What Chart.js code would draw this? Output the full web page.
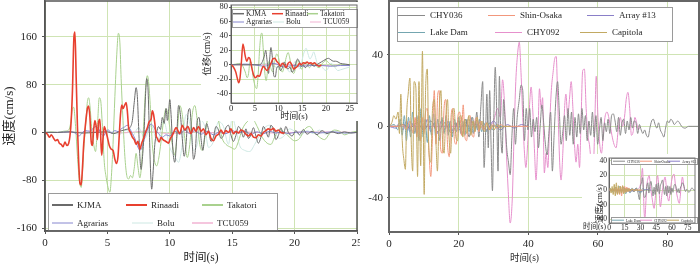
<!DOCTYPE html>
<html>
<head>
<meta charset="utf-8">
<script src="https://cdn.jsdelivr.net/npm/chart.js@4.4.1/dist/chart.umd.min.js"></script>
<style>
  html, body { margin: 0; padding: 0; background: #fff; }
  body { width: 700px; height: 265px; position: relative; overflow: hidden; }
  canvas { position: absolute; }
  .inset { background: #fff; }
</style>
</head>
<body>
<canvas id="velLeft" width="360" height="265" style="left:0;top:0"></canvas>
<canvas id="dispInset" class="inset" width="157" height="119" style="left:201px;top:2px"></canvas>
<canvas id="velRight" width="340" height="265" style="left:360px;top:0"></canvas>
<canvas id="velInset" class="inset" width="116" height="77" style="left:582px;top:154px"></canvas>
<script>
// ---------- left panel: velocity time histories, [time (s), velocity (cm/s)] ----------
const kjma = [[0,0],[1,0],[2,1],[3,-1],[4,0],[5,1],[5.5,-2],[6,2],[6.5,5],[6.8,8],[7.0,20],[7.15,50],[7.3,75],[7.4,60],[7.5,10],[7.6,-40],[7.7,-62],[7.8,-45],[7.95,5],[8.05,60],[8.15,90],[8.25,75],[8.35,10],[8.45,-60],[8.55,-95],[8.65,-70],[8.8,-20],[8.95,0],[9.1,10],[9.25,5],[9.4,25],[9.55,15],[9.7,40],[9.8,20],[9.9,35],[10.0,55],[10.1,30],[10.25,-30],[10.4,-50],[10.55,-10],[10.7,45],[10.85,30],[11.0,-10],[11.15,-40],[11.3,-20],[11.45,30],[11.6,40],[11.75,0],[11.9,-45],[12.05,-30],[12.2,20],[12.35,25],[12.5,-10],[12.65,-30],[12.8,-5],[12.95,15],[13.1,5],[13.3,-15],[13.5,-8],[13.7,10],[13.9,4],[14.1,-10],[14.3,-5],[14.5,8],[14.7,12],[14.9,-4],[15.1,-15],[15.3,-5],[15.5,10],[15.7,4],[15.9,-8],[16.1,6],[16.3,-10],[16.5,-4],[16.7,8],[16.9,-6],[17.1,-18],[17.3,-8],[17.5,10],[17.7,2],[17.9,-8],[18.1,12],[18.3,6],[18.5,-12],[18.7,-5],[18.9,8],[19.1,-3],[19.3,10],[19.5,0],[19.8,-6],[20.1,3],[20.4,-4],[20.7,5],[21.0,-3],[21.4,2],[21.8,-4],[22.2,3],[22.6,-2],[23,1],[23.5,-2],[24,1],[24.5,-1],[25,0]];
const rinaadi = [[0,0],[0.2,-3],[0.35,-8],[0.5,-4],[0.7,-10],[0.85,-14],[1.0,-12],[1.15,-18],[1.3,-20],[1.45,-24],[1.6,-16],[1.75,-22],[1.9,-18],[2.0,-6],[2.1,20],[2.2,70],[2.32,160],[2.4,168],[2.5,90],[2.6,10],[2.7,-50],[2.8,-85],[2.9,-88],[3.0,-60],[3.1,-20],[3.25,15],[3.4,40],[3.5,44],[3.6,25],[3.7,-15],[3.8,-22],[3.9,5],[4.0,20],[4.1,10],[4.2,-12],[4.3,18],[4.4,22],[4.5,-25],[4.55,-38],[4.65,-10],[4.75,10],[4.85,4],[5.0,-8],[5.15,-22],[5.3,-28],[5.45,-30],[5.6,-45],[5.72,-52],[5.85,-40],[5.95,-5],[6.05,30],[6.15,46],[6.25,40],[6.35,44],[6.5,50],[6.6,35],[6.7,8],[6.85,0],[7.0,-8],[7.15,-12],[7.3,-20],[7.45,-15],[7.6,-28],[7.75,-18],[7.9,-10],[8.05,0],[8.2,8],[8.35,18],[8.5,22],[8.6,36],[8.7,30],[8.8,15],[8.9,-5],[9.0,-10],[9.15,-16],[9.3,-8],[9.45,-12],[9.6,-14],[9.75,-16],[9.9,-18],[10.05,-10],[10.2,-5],[10.35,2],[10.5,8],[10.8,-2],[11.0,12],[11.2,4],[11.45,10],[11.7,-2],[11.9,8],[12.1,2],[12.3,10],[12.5,2],[12.7,6],[12.9,-4],[13.1,2],[13.3,-10],[13.5,-14],[13.7,-6],[13.9,-3],[14.1,4],[14.3,-2],[14.5,3],[14.7,0],[14.9,6],[15.1,-2],[15.3,2],[15.5,-1],[15.7,4],[15.9,2],[16.1,-3],[16.3,-6],[16.5,-2],[16.7,-8],[16.9,-9],[17.1,-4],[17.3,-6],[17.5,0],[17.7,3],[17.9,6],[18.1,4],[18.3,7],[18.5,2],[18.7,4],[18.9,0],[19.2,-1]];
const takatori = [[0,0],[0.5,1],[1,0],[1.5,2],[1.9,4],[2.05,15],[2.2,40],[2.3,42],[2.45,10],[2.6,-40],[2.75,-80],[2.9,-92],[3.0,-70],[3.1,-30],[3.25,10],[3.4,52],[3.5,58],[3.6,45],[3.75,5],[3.9,-20],[4.05,-32],[4.2,10],[4.35,58],[4.45,55],[4.6,10],[4.75,-50],[4.9,-75],[5.05,-92],[5.2,-100],[5.3,-80],[5.45,-20],[5.6,60],[5.75,130],[5.88,166],[6.0,150],[6.1,90],[6.25,20],[6.4,-40],[6.55,-72],[6.7,-78],[6.85,-72],[7.0,-76],[7.15,-60],[7.3,-35],[7.45,-58],[7.6,-76],[7.75,-50],[7.9,10],[8.05,70],[8.2,95],[8.3,85],[8.45,40],[8.6,-20],[8.8,-50],[8.95,-56],[9.1,-45],[9.3,-15],[9.5,20],[9.7,40],[9.85,30],[10.0,8],[10.2,-20],[10.4,-38],[10.6,0],[10.8,45],[11.0,30],[11.2,-10],[11.4,-42],[11.6,-20],[11.8,30],[12.0,45],[12.2,20],[12.4,-20],[12.6,-30],[12.8,-10],[13.0,20],[13.3,42],[13.6,44],[13.9,20],[14.2,-10],[14.5,-20],[14.9,-25],[15.2,-28],[15.5,-15],[15.8,5],[16.2,18],[16.6,23],[17.0,10],[17.4,-8],[17.8,-18],[18.1,-20],[18.4,-8],[18.8,5],[19.2,0],[19.6,-8],[20.0,-14],[20.4,-10],[20.8,5],[21.2,10],[21.6,0],[22.0,-8],[22.4,-12],[22.8,-2],[23.2,4],[23.6,2],[24.0,-4],[24.5,0],[25,2]];
const agrarias = [[0,0],[1,0],[2,1],[2.5,-2],[2.7,-6],[2.9,-3],[3.2,3],[3.6,2],[3.9,8],[4.1,10],[4.3,6],[4.5,-2],[4.7,-6],[4.9,2],[5.1,4],[5.3,-1],[5.6,3],[5.9,1],[6.1,6],[6.3,8],[6.6,12],[6.8,6],[7.0,-2],[7.2,-10],[7.4,-22],[7.6,-30],[7.8,-24],[8.0,-8],[8.2,4],[8.5,14],[8.7,10],[8.9,2],[9.1,-2],[9.4,-8],[9.7,-4],[10.0,-6],[10.4,2],[10.8,-3],[11.2,4],[11.6,-2],[12,3],[12.5,-3],[13,2],[13.5,-4],[14,1],[14.5,-2],[15,3],[15.5,-1],[16,2],[16.5,-3],[17,1],[17.5,-2],[18,2],[18.5,-1],[19,1],[19.5,-2],[20,0],[21,1],[22,-1],[23,1],[24,-1],[25,0]];
const bolu = [[0,0],[1,0],[2,1],[3,-1],[4,0],[5,2],[6,-3],[6.5,4],[7,-6],[7.5,8],[8,-10],[8.5,12],[9,-15],[9.5,20],[10,-25],[10.4,-40],[10.7,-50],[11,-20],[11.3,30],[11.6,15],[11.9,-30],[12.2,-20],[12.5,20],[12.8,10],[13.1,-25],[13.5,-15],[13.9,18],[14.3,10],[14.7,-20],[15.0,25],[15.3,5],[15.6,-22],[16.0,-30],[16.4,-32],[16.8,-20],[17.2,-5],[17.6,8],[18.0,12],[18.4,0],[18.8,-10],[19.2,-5],[19.6,6],[20,2],[20.5,-5],[21,3],[21.5,-2],[22,4],[22.5,-3],[23,2],[24,-1],[25,0]];
const tcu059 = [[0,0],[2,0],[4,1],[6,-1],[8,2],[10,-2],[12,1],[14,-1],[16,1],[18,-1],[20,0],[22,1],[25,0]];

// ---------- left inset: displacement, [time (s), displacement (cm)] ----------
const kjmaDisp = [[0,0],[6,0],[6.5,3],[7.0,12],[7.3,20],[7.6,5],[7.9,-12],[8.1,5],[8.4,24],[8.7,10],[9.0,-15],[9.3,-17],[9.6,-5],[10.0,-2],[10.4,-8],[10.8,-4],[11.2,4],[11.6,-2],[12.0,-6],[12.4,-3],[12.8,-10],[13.2,-8],[13.6,2],[14,8],[14.4,4],[14.8,-2],[15.2,0],[15.6,-4],[16,-2],[16.5,2],[17,0],[17.5,-2],[18,0],[18.5,2],[19,4],[19.5,6],[20,8],[20.5,9],[21,7],[21.5,5],[22,5],[22.5,4],[23,2],[24,1],[25,0]];
const rinaadiDisp = [[0,0],[0.5,-3],[1.0,-10],[1.3,-18],[1.6,-25],[1.9,-18],[2.2,5],[2.5,29],[2.7,24],[3.0,12],[3.3,5],[3.7,10],[4.0,8],[4.4,-5],[4.8,-15],[5.2,-18],[5.6,-15],[6.0,-16],[6.4,-8],[6.8,-2],[7.2,-5],[7.6,-8],[8.0,-4],[8.4,2],[8.8,8],[9.2,9],[9.6,5],[10.0,2],[10.4,-2],[10.8,2],[11.2,0],[11.6,-4],[12.0,2],[12.4,4],[12.8,0],[13.2,-6],[13.6,-4],[14.0,-2],[14.4,2],[14.8,0],[15.2,3],[15.6,2],[16.0,4],[16.4,2],[16.8,3],[17.2,1],[17.6,3],[18.0,0],[18.5,-2],[19,0]];
const takatoriDisp = [[0,0],[1,1],[2,2],[2.5,-2],[3.0,-10],[3.4,-18],[3.7,-12],[4.0,5],[4.3,2],[4.6,-15],[5.0,-28],[5.4,-33],[5.7,-15],[6.0,20],[6.3,42],[6.5,44],[6.8,20],[7.1,-10],[7.4,-22],[7.7,-8],[8.0,5],[8.4,-5],[8.8,-10],[9.2,5],[9.6,15],[10.0,10],[10.4,-5],[10.8,-10],[11.2,-2],[11.6,10],[12.0,17],[12.4,8],[12.8,-8],[13.2,-12],[13.6,-4],[14.0,6],[14.4,2],[14.8,-6],[15.2,-2],[15.6,4],[16.0,1],[16.5,-4],[17,0],[17.5,3],[18,-2],[18.5,-4],[19,0],[19.5,4],[20,6],[20.5,3],[21,0],[22,-2],[23,1],[24,0],[25,0]];
const agrariasDisp = [[0,0],[3,1],[5,0],[7,-2],[9,2],[11,-3],[13,-1],[15,-2],[17,-1],[19,-1],[21,-2],[23,-1],[25,-1]];
const boluDisp = [[0,0],[5,0],[7,2],[9,-2],[10,-4],[11,2],[12,-8],[12.5,-10],[13,-2],[13.5,5],[14,0],[14.5,-6],[15,8],[15.5,20],[15.8,23],[16.2,15],[16.6,8],[17,12],[17.4,18],[17.8,10],[18.2,0],[18.6,-4],[19,-2],[19.5,-6],[20,-8],[20.5,-4],[21,2],[21.5,0],[22,-5],[22.5,-8],[23,-7],[24,-5],[25,-3]];
const tcu059Disp = [[0,0],[5,0],[10,1],[15,0],[20,-1],[25,0]];

// ---------- right panel: velocity time histories, [time (s), velocity (cm/s)] ----------
const chy036 = [[0,0],[2,0],[4,1],[6,-1],[8,2],[10,-2],[12,3],[14,-3],[16,2],[18,-4],[20,3],[21,-5],[22,4],[23,-6],[24,5],[24.6,-3],[25.2,8],[25.8,-6],[26.4,12],[26.9,25],[27.3,-23],[27.7,-5],[28.1,18],[28.5,-12],[28.9,20],[29.3,-10],[29.7,-36],[30.1,5],[30.5,33],[30.9,10],[31.3,-25],[31.7,28],[32.1,-5],[32.5,-15],[32.9,15],[33.3,5],[33.8,-12],[34.3,-20],[34.8,-27],[35.3,-5],[35.8,10],[36.3,-10],[36.8,5],[37.4,15],[37.9,23],[38.4,20],[38.9,-8],[39.4,10],[39.9,-2],[40.4,10],[40.9,-6],[41.4,4],[41.9,-3],[42.4,5],[42.9,-12],[43.4,0],[43.9,12],[44.4,2],[44.9,-10],[45.4,-16],[45.9,-4],[46.4,8],[46.9,-25],[47.4,-5],[47.9,15],[48.4,25],[48.9,8],[49.4,-10],[49.9,-3],[50.4,6],[50.9,-8],[51.4,10],[51.9,-5],[52.4,8],[52.9,-10],[53.4,5],[53.9,-6],[54.4,7],[54.9,-4],[55.4,10],[55.9,-2],[56.4,6],[56.9,-8],[57.4,3],[57.9,-5],[58.4,8],[58.9,-6],[59.4,6],[59.9,-10],[60.4,-2],[60.9,5],[61.4,-8],[61.9,2],[62.4,-3],[62.9,4],[63.4,-4],[63.9,6],[64.4,7],[64.9,3],[65.4,-3],[65.9,5],[66.4,-5],[66.9,2],[67.4,4],[67.9,-4],[68.4,3],[68.9,-2],[69.4,5],[69.9,-1],[70.4,3],[70.9,2],[71.4,-4],[71.9,1],[72.4,-2],[72.9,-4],[73.4,-2],[73.9,-5],[74.4,-6],[74.9,-1],[75.4,3],[75.9,4],[76.4,1],[76.9,-1],[77.4,2],[77.9,-2],[78.4,-4],[78.9,-6],[79.4,-1],[79.9,3],[80.4,2],[80.9,4],[81.4,3],[81.9,1],[82.4,2],[82.9,3],[83.4,2],[84,0],[85,-1],[86,0],[87,0],[89,0]];
const shinOsaka = [[0,0],[3,0],[4,1],[5,-2],[6,3],[7,-4],[7.5,5],[8,-6],[8.5,6],[9,-8],[9.5,5],[10,-4],[10.5,8],[11,10],[11.5,-15],[12,-28],[12.5,-5],[13,20],[13.5,-10],[14,18],[14.4,20],[14.8,-12],[15.3,-15],[15.8,10],[16.3,15],[16.8,-10],[17.3,-17],[17.8,5],[18.3,10],[18.8,-8],[19.3,-10],[19.8,6],[20.3,8],[20.8,-5],[21.3,12],[21.8,-6],[22.3,-8],[22.8,5],[23.3,6],[23.8,-4],[24.3,-6],[24.8,4],[25.3,5],[25.8,-3],[26.3,3],[27,-2],[28,2],[29,-2],[30,1],[31,-1],[32,1],[33,0],[36,0],[40,0]];
const array13 = [[0,0],[2,-1],[3,2],[4,-2],[5,3],[6,-3],[7,2],[8,-4],[9,3],[10,-2],[11,4],[12,-3],[13,2],[14,-4],[15,3],[16,-2],[17,3],[18,-3],[19,2],[20,-2],[22,2],[24,-3],[26,2],[28,-2],[30,3],[32,-2],[34,1],[36,-1],[38,1],[40,0]];
const lakeDam = [[0,0],[1.5,1],[2.5,-2],[3.2,4],[3.8,-5],[4.4,6],[5.0,-8],[5.6,5],[6.2,-6],[6.8,8],[7.4,-4],[8.0,6],[8.6,-8],[9.2,10],[9.8,-6],[10.4,4],[11,-9],[11.6,6],[12.2,-5],[12.8,7],[13.4,-6],[14,4],[14.6,-8],[15.2,5],[15.8,-4],[16.4,6],[17,-5],[17.6,3],[18.2,-6],[18.8,4],[19.4,-3],[20,5],[20.6,-4],[21.2,3],[21.8,-5],[22.4,4],[23,-3],[23.6,5],[24.2,-4],[24.8,3],[25.4,-2],[26,4],[26.6,-3],[27.2,2],[28,-3],[28.8,2],[29.6,-2],[30.4,1],[31.2,-1],[32,0],[33,0]];
const chy092 = [[0,0],[10,0],[20,0],[25,1],[28,-2],[30,3],[31.2,10],[32,5],[32.6,26],[33.1,15],[33.6,-10],[34.2,-35],[34.8,-54],[35.4,-40],[35.9,-5],[36.4,25],[36.9,40],[37.4,47],[37.9,30],[38.4,5],[38.9,-15],[39.3,-23],[39.8,-10],[40.3,10],[40.8,22],[41.3,8],[41.8,-15],[42.2,-30],[42.7,-10],[43.2,21],[43.7,10],[44.1,16],[44.6,-26],[45.1,-15],[45.6,-23],[46.1,0],[46.6,20],[47.1,30],[47.6,38],[48.0,39],[48.5,10],[49.0,-20],[49.4,-30],[49.9,-15],[50.4,10],[50.8,18],[51.3,5],[51.8,15],[52.3,25],[52.8,10],[53.2,-8],[53.7,-20],[54.2,-10],[54.7,-23],[55.1,0],[55.6,31],[56.1,32],[56.6,10],[57.1,-5],[57.6,-11],[58.0,-20],[58.5,-31],[59.0,-5],[59.5,28],[60.0,5],[60.5,-10],[61.0,-15],[61.5,-5],[62.0,5],[62.6,8],[63.3,3],[64.0,-5],[64.6,-10],[65.2,-12],[65.8,-2],[66.4,5],[67.0,0],[67.6,5],[68.1,15],[68.6,19],[69.1,10],[69.6,-5],[70.1,-3],[70.6,5],[71.1,2],[71.6,-2],[72.1,0]];
const capitola = [[0,0],[0.8,2],[1.4,6],[2.0,4],[2.6,8],[3.0,-4],[3.4,18],[3.8,-8],[4.3,-19],[4.7,-24],[5.1,8],[5.5,18],[6.0,27],[6.4,-10],[6.8,-25],[7.2,25],[7.7,22],[8.2,-28],[8.6,25],[9.1,-22],[9.6,42],[10.1,-38],[10.5,20],[11.0,32],[11.4,-12],[12.0,-20],[12.5,10],[13.0,15],[13.5,-10],[13.9,-25],[14.4,8],[14.9,20],[15.3,-5],[15.8,-15],[16.3,5],[16.8,15],[17.2,-5],[17.7,-15],[18.2,8],[18.7,10],[19.2,-6],[19.7,-8],[20.2,5],[20.7,6],[21.2,-6],[21.7,4],[22.3,-4],[22.9,6],[23.5,-5],[24.1,3],[24.7,-3],[25.3,5],[26,-2],[26.7,3],[27.4,-3],[28.1,2],[28.8,-2],[29.5,1],[30.2,-2],[31,1],[32,-1],[33,0],[35,0]];

// ---------- right inset: velocity, [time (s), velocity (cm/s)] ----------
const chy036Inset = [[0,0],[10,0],[20,1],[24,-2],[26,3],[28,-6],[29,-13],[30,5],[31,10],[32,17],[33,-5],[34,-10],[35,-8],[36,5],[37,10],[38,-4],[39,8],[40,12],[41,2],[42,-8],[43,4],[44,-6],[45,8],[46,-2],[47,10],[48,-5],[49,6],[50,10],[51,14],[52,4],[53,-6],[54,5],[55,-8],[56,6],[57,-4],[58,5],[59,-6],[60,3],[61,-3],[62,6],[63,8],[64,4],[65,-3],[66,2],[67,-4],[68,3],[69,6],[70,10],[71,8],[72,2],[73,-2],[74,1],[75,0],[76,-3],[77,-2],[78,1],[79,3],[80,2],[81,0],[82,0]];
const shinOsakaInset = [[0,0],[4,0],[5,2],[6,-3],[7,4],[8,-5],[9,3],[10,-6],[11,5],[12,-8],[13,6],[14,-4],[15,5],[16,-3],[17,4],[18,-2],[19,3],[20,-2],[22,2],[24,-1],[26,1],[28,0],[32,0]];
const array13Inset = [[0,0],[5,1],[10,-1],[15,2],[20,-2],[25,1],[30,-2],[35,1],[40,0]];
const lakeDamInset = [[0,0],[2,2],[4,-3],[6,4],[8,-4],[10,5],[12,-3],[14,4],[16,-5],[18,3],[20,-4],[22,3],[24,-2],[26,3],[28,-2],[30,-4],[32,2],[34,0]];
const chy092Inset = [[0,0],[25,0],[28,2],[30,8],[31,20],[31.9,30],[32.8,0],[33.5,-30],[34.2,-40],[35,-21],[36,5],[37,15],[38.3,20],[39.5,5],[41,-10],[43,-25],[44.5,-5],[46.3,20],[47.5,5],[49,-23],[50.5,-5],[52,10],[53.5,18],[55,0],[57,-15],[58.5,0],[60,15],[62,22],[63.5,5],[65,-8],[67,-18],[68.5,0],[70,18],[71,10],[72,0]];
const capitolaInset = [[0,0],[1,3],[2,-4],[3,5],[4,-6],[5,8],[6,-8],[7,10],[8,-6],[9,6],[10,-5],[11,5],[12,-4],[13,6],[14,-5],[15,3],[16,-3],[17,2],[18,-2],[19,2],[20,-1],[22,1],[24,0],[30,0]];

// names and tick values
const leftNames = ['KJMA', 'Rinaadi', 'Takatori', 'Agrarias', 'Bolu', 'TCU059'];
const rightNames = ['CHY036', 'Shin-Osaka', 'Array #13', 'Lake Dam', 'CHY092', 'Capitola'];
const leftTimeTicks = [0, 5, 10, 15, 20, 25];
const leftVelTicks = [-160, -80, 0, 80, 160];
const leftDispTicks = [-40, -20, 0, 20, 40, 60, 80];
const rightTimeTicks = [0, 20, 40, 60, 80];
const rightVelTicks = [-40, 0, 40];
const insetTimeTicks = [0, 15, 30, 45, 60, 75];
const insetVelTicks = [-40, -20, 0, 20, 40];

// ---------- styling ----------
const SERIF = "'Liberation Serif', 'Times New Roman', 'Noto Sans CJK SC', serif";
const INK = '#262626';
const GRID = '#cfe4b4';
const leftColors = ['#6b6b6b', '#e8402f', '#a9d18e', '#8686cf', '#cde8e3', '#f2b3d3'];
const leftWidths = [1, 1.6, 1, 1, 1, 1];
const leftOrder = [1, 0, 3, 2, 4, 5];
const rightColors = ['#8a8a8a', '#f2977c', '#8a7fc8', '#74a6b0', '#e690cc', '#c2a962'];
const rightWidths = [1, 1, 1, 1, 1, 1];
const rightOrder = [2, 1, 4, 3, 5, 0];

function datasets(names, data, colors, widths, orders) {
  return names.map((n, i) => ({
    label: n,
    data: data[i],
    borderColor: colors[i],
    backgroundColor: colors[i],
    borderWidth: widths[i],
    pointRadius: 0,
    cubicInterpolationMode: 'monotone',
    order: orders[i]
  }));
}

function axis(ticks, min, max, o) {
  return {
    type: 'linear',
    min: min,
    max: max,
    afterBuildTicks: s => { s.ticks = ticks.map(v => ({ value: v })); },
    afterFit: s => {
      if (s.isHorizontal()) s.height = o.size; else s.width = o.size;
      // keep the plot box where it is, even if an end label sticks out
      s.paddingLeft = s.paddingRight = s.paddingTop = s.paddingBottom = 0;
    },
    grid: { color: GRID, lineWidth: 1, tickLength: o.tickLen, tickColor: '#555' },
    border: { color: '#555', width: o.border },
    ticks: { font: { family: SERIF, size: o.font }, color: INK, padding: o.pad, maxRotation: 0, autoSkip: false },
    title: o.title ? {
      display: true, text: o.title, color: INK, align: o.titleAlign || 'center',
      font: { family: SERIF, size: o.titleSize, lineHeight: o.titleLH || 1.2 },
      padding: o.titlePad || 0
    } : { display: false }
  };
}

// legend drawn inside the plot as a boxed grid, like the original figure
function boxLegend(cfg) {
  return {
    id: 'boxLegend',
    afterDatasetsDraw(chart) {
      const ctx = chart.ctx, sets = chart.data.datasets;
      ctx.save();
      cfg.boxes.forEach(b => {
        ctx.fillStyle = '#fff';
        ctx.fillRect(b[0], b[1], b[2], b[3]);
        ctx.strokeStyle = '#9a9a9a';
        ctx.lineWidth = 1;
        ctx.strokeRect(b[0] + 0.5, b[1] + 0.5, b[2], b[3]);
      });
      ctx.font = cfg.font;
      ctx.textBaseline = 'middle';
      ctx.textAlign = 'left';
      cfg.slots.forEach((p, i) => {
        const ds = sets[i];
        ctx.strokeStyle = ds.borderColor;
        ctx.lineWidth = cfg.lw[i];
        ctx.beginPath();
        ctx.moveTo(p[0], p[1]);
        ctx.lineTo(p[0] + cfg.len, p[1]);
        ctx.stroke();
        ctx.fillStyle = INK;
        ctx.fillText(ds.label, p[0] + cfg.len + cfg.gap, p[1] + 0.5);
      });
      ctx.restore();
    }
  };
}

function frame(color, width) {
  return {
    id: 'frame',
    afterDatasetsDraw(chart) {
      const a = chart.chartArea, ctx = chart.ctx;
      ctx.save();
      ctx.strokeStyle = color;
      ctx.lineWidth = width;
      ctx.strokeRect(a.left, a.top, a.right - a.left, a.bottom - a.top);
      ctx.restore();
    }
  };
}

function notes(items) {
  return {
    id: 'notes',
    afterDraw(chart) {
      const ctx = chart.ctx;
      ctx.save();
      items.forEach(n => {
        ctx.font = n.font;
        ctx.fillStyle = INK;
        ctx.textAlign = n.align;
        ctx.textBaseline = 'middle';
        ctx.fillText(n.text, n.x, n.y);
      });
      ctx.restore();
    }
  };
}

function baseOptions(padding, x, y) {
  return {
    responsive: false,
    animation: false,
    events: [],
    layout: { padding: padding },
    plugins: { legend: { display: false }, tooltip: { enabled: false } },
    scales: { x: x, y: y }
  };
}

// Left main chart
new Chart(document.getElementById('velLeft'), {
  type: 'line',
  data: { datasets: datasets(leftNames, [kjma, rinaadi, takatori, agrarias, bolu, tcu059], leftColors, leftWidths, leftOrder) },
  options: baseOptions({ left: 0, top: 1, right: 3, bottom: 0 },
    axis(leftTimeTicks, 0, 25, { size: 34, tickLen: 3, pad: 3, font: 11, border: 1.5, title: '时间(s)', titleSize: 11.5, titleLH: 1.2 }),
    axis(leftVelTicks, -165, 220, { size: 45, tickLen: 3, pad: 5, font: 11, border: 1.5, title: '速度(cm/s)', titleSize: 13, titleLH: 1.2, titlePad: 2 })),
  plugins: [
    boxLegend({
      boxes: [[48, 193, 229, 37]],
      font: '9px ' + SERIF, len: 21, gap: 4,
      lw: [2, 2, 2, 1, 1, 1.5],
      slots: [[52, 205], [126, 205], [202, 205], [52, 223], [132, 223], [192, 223]]
    }),
    frame('#555', 1.5)
  ]
});

// Left inset: displacement
new Chart(document.getElementById('dispInset'), {
  type: 'line',
  data: { datasets: datasets(leftNames, [kjmaDisp, rinaadiDisp, takatoriDisp, agrariasDisp, boluDisp, tcu059Disp], leftColors, [1, 1.5, 1, 1, 1, 1], leftOrder) },
  options: baseOptions({ left: 0, top: 3, right: 1, bottom: 0 },
    axis(leftTimeTicks, 0, 26.5, { size: 18, tickLen: 1, pad: 0, font: 8.5, border: 1, title: '时间(s)', titleSize: 9, titleLH: 1 }),
    axis(leftDispTicks, -53, 83, { size: 30, tickLen: 2, pad: 1, font: 8.5, border: 1, title: '位移(cm/s)', titleSize: 9.5, titleLH: 1.2, titlePad: 1 })),
  plugins: [
    boxLegend({
      boxes: [[31, 7, 125, 18]],
      font: '7.5px ' + SERIF, len: 11, gap: 2,
      lw: [1.5, 1.5, 1.5, 1, 1, 1],
      slots: [[32, 11.7], [71, 11.7], [106, 11.7], [32, 20], [72, 20], [109, 20]]
    }),
    frame('#666', 1)
  ]
});

// Right main chart
new Chart(document.getElementById('velRight'), {
  type: 'line',
  data: { datasets: datasets(rightNames, [chy036, shinOsaka, array13, lakeDam, chy092, capitola], rightColors, rightWidths, rightOrder) },
  options: baseOptions({ left: 0, top: 1, right: 1, bottom: 0 },
    axis(rightTimeTicks, 0, 89, { size: 33, tickLen: 3, pad: 3, font: 11, border: 2 }),
    axis(rightVelTicks, -59, 70, { size: 29, tickLen: 2, pad: 4, font: 11, border: 2 })),
  plugins: [
    boxLegend({
      boxes: [[37, 7, 275, 34]],
      font: '9px ' + SERIF, len: 27, gap: 5,
      lw: [1, 1, 1, 1, 1, 1],
      slots: [[38, 15.5], [128, 15.5], [227, 15.5], [38, 32.5], [135, 32.5], [220, 32.5]]
    }),
    frame('#666', 2),
    notes([{ text: '时间(s)', x: 164.5, y: 258, align: 'center', font: '9.5px ' + SERIF }])
  ]
});

// Right inset: velocity
new Chart(document.getElementById('velInset'), {
  type: 'line',
  data: { datasets: datasets(rightNames, [chy036Inset, shinOsakaInset, array13Inset, lakeDamInset, chy092Inset, capitolaInset], rightColors, rightWidths, rightOrder) },
  options: baseOptions({ left: 0, top: 4, right: 3, bottom: 0 },
    axis(insetTimeTicks, 0, 82, { size: 8, tickLen: 0, pad: 0.5, font: 7.5, border: 1 }),
    axis(insetVelTicks, -45, 44, { size: 27, tickLen: 0, pad: 2, font: 7.5, border: 1, title: '速度(cm/s)', titleSize: 8.5, titleLH: 1, titlePad: 14, titleAlign: 'start' })),
  plugins: [
    boxLegend({
      boxes: [[29, 4, 86, 6], [29, 63, 86, 6]],
      font: '3.5px ' + SERIF, len: 12, gap: 2,
      lw: [1, 1, 1, 1, 1, 1],
      slots: [[31, 7.2], [58, 7.2], [86, 7.2], [30, 66.2], [58, 66.2], [85, 66.2]]
    }),
    frame('#777', 1),
    notes([{ text: '时间(s)', x: 1, y: 73, align: 'left', font: '7.5px ' + SERIF }])
  ]
});
</script>
</body>
</html>
